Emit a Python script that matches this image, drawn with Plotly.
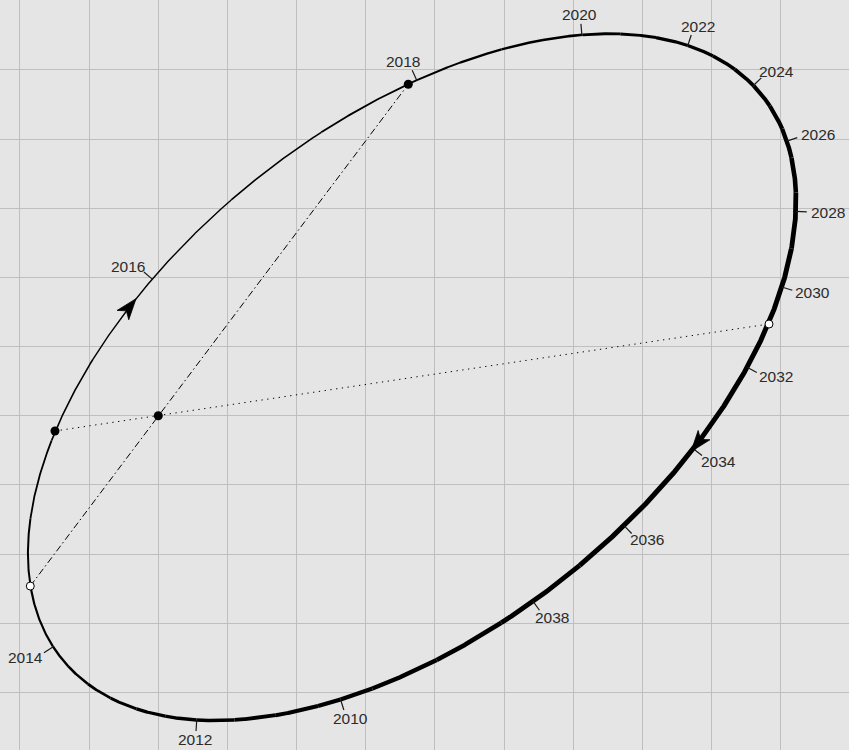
import numpy as np
import plotly.graph_objects as go

# ---------------- data (axis units, primary star at the origin) ----------------
years = [2010, 2012, 2014, 2016, 2018, 2020, 2022, 2024, 2026, 2028, 2030, 2032, 2034, 2036, 2038]
year_x = [2.638, 0.555, -1.518, -0.081, 3.737, 6.123, 7.664, 8.614, 9.073, 9.207, 9.029, 8.513, 7.708, 6.749, 5.423]
year_y = [-4.093, -4.400, -3.341, 1.973, 4.855, 5.505, 5.363, 4.782, 3.962, 2.950, 1.865, 0.700, -0.470, -1.599, -2.690]

primary_x = [0.0]
primary_y = [0.0]
apsides_x = [-1.851, 3.615]      # periastron (open), apastron (filled)
apsides_y = [-2.463, 4.793]
nodes_x = [-1.494, 8.831]        # node (filled), node (open)
nodes_y = [-0.221, 1.326]
arrow_x = [-0.337, 7.699]        # direction-of-motion arrows
arrow_y = [1.698, -0.521]

# ---------------- style ----------------
PX = 69.15                       # pixels per axis unit
line_width_at_year = [4.2, 3.5, 2.3, 1.3, 1.9, 2.7, 3.3, 3.9, 4.4, 4.8, 5.0, 5.1, 5.1, 5.0, 4.8]
TICK_LEN = 11.0
LABEL_RX, LABEL_RY = 32.5, 20.0  # label-centre offset along the outward normal (px)
FONT = dict(family="Liberation Sans, Arial, Helvetica, sans-serif", size=15.5, color="#2b2b2b")
BG = "#e5e5e5"
GRID = "#bfbfbf"

# ---------------- ellipse through the measured positions (conic fit) ----------------
fx = np.array(year_x + apsides_x + nodes_x)
fy = np.array(year_y + apsides_y + nodes_y)
Dm = np.column_stack([fx**2, fx*fy, fy**2, fx, fy, np.ones_like(fx)])
_, _, Vt = np.linalg.svd(Dm)
A, B, C, D, E, F = Vt[-1]
M = np.array([[A, B/2], [B/2, C]])
cen = np.linalg.solve(2*M, -np.array([D, E]))
Fc = F + 0.5*(D*cen[0] + E*cen[1])
lam, V = np.linalg.eigh(M)
semi = np.sqrt(-Fc/lam)


def ell(t):
    t = np.asarray(t, dtype=float)
    loc = np.vstack([semi[0]*np.cos(t), semi[1]*np.sin(t)])
    return cen[:, None] + V @ loc


def ell_d(t):
    t = np.asarray(t, dtype=float)
    loc = np.vstack([-semi[0]*np.sin(t), semi[1]*np.cos(t)])
    return V @ loc


yx = np.array(year_x); yy = np.array(year_y)
loc = V.T @ (np.vstack([yx, yy]) - cen[:, None])
t_raw = np.arctan2(loc[1]/semi[1], loc[0]/semi[0])
d = np.diff(t_raw)
d = (d + np.pi) % (2*np.pi) - np.pi
s = np.sign(d.sum())
T = np.concatenate([[t_raw[0]], t_raw[0] + np.cumsum(d)])
T_ext = np.append(T, T[0] + s*2*np.pi)
w_ext = np.array(line_width_at_year + [line_width_at_year[0]])

N = 2400
Td = np.linspace(T[0], T[0] + s*2*np.pi, N)
P = ell(Td)
Wd = np.interp(s*(Td - T[0]), s*(T_ext - T[0]), w_ext)
Wq = np.round(Wd/0.2)*0.2

fig = go.Figure()

# line of apsides (dash-dot) and line of nodes (dotted)
fig.add_trace(go.Scatter(x=apsides_x, y=apsides_y, mode="lines",
                         line=dict(color="black", width=1, dash="7px,3px,1.5px,3px"), hoverinfo="skip"))
fig.add_trace(go.Scatter(x=nodes_x, y=nodes_y, mode="lines",
                         line=dict(color="black", width=1, dash="1.3px,4.5px"), hoverinfo="skip"))

# orbit with varying thickness
start = 0
for i in range(1, N + 1):
    if i == N or Wq[i] != Wq[start]:
        end = min(i + 1, N)
        fig.add_trace(go.Scatter(x=P[0, start:end], y=P[1, start:end], mode="lines",
                                 line=dict(color="black", width=float(Wq[start])),
                                 hoverinfo="skip"))
        start = i

# year ticks and labels
tx, ty = [], []
for k, yr in enumerate(years):
    p = ell([T[k]])[:, 0]
    tg = ell_d([T[k]])[:, 0]
    n = np.array([-tg[1], tg[0]])
    n /= np.linalg.norm(n)
    if np.dot(n, p - cen) < 0:
        n = -n
    q = p + n*TICK_LEN/PX
    tx += [p[0], q[0], None]
    ty += [p[1], q[1], None]
    lc = p + np.array([n[0]*LABEL_RX, n[1]*LABEL_RY])/PX
    fig.add_annotation(x=lc[0], y=lc[1], text=str(yr), showarrow=False,
                       xanchor="center", yanchor="middle", font=FONT)
fig.add_trace(go.Scatter(x=tx, y=ty, mode="lines", line=dict(color="#1a1a1a", width=1.2), hoverinfo="skip"))

# direction arrows
ARROW_L, ARROW_HW, ARROW_NOTCH = 21.0, 7.5, 15.5
for axp, ayp in zip(arrow_x, arrow_y):
    i = int(np.argmin((P[0] - axp)**2 + (P[1] - ayp)**2))
    i = min(max(i, 1), N - 2)
    tip = P[:, i]
    u = P[:, i + 1] - P[:, i - 1]
    u /= np.linalg.norm(u)
    v = np.array([-u[1], u[0]])
    pts = [tip,
           tip - u*ARROW_L/PX + v*ARROW_HW/PX,
           tip - u*ARROW_NOTCH/PX,
           tip - u*ARROW_L/PX - v*ARROW_HW/PX,
           tip]
    fig.add_trace(go.Scatter(x=[a[0] for a in pts], y=[a[1] for a in pts], mode="lines",
                             fill="toself", fillcolor="black", line=dict(color="black", width=0.8),
                             hoverinfo="skip"))

# markers
filled_x = [primary_x[0], apsides_x[1], nodes_x[0]]
filled_y = [primary_y[0], apsides_y[1], nodes_y[0]]
open_x = [apsides_x[0], nodes_x[1]]
open_y = [apsides_y[0], nodes_y[1]]
fig.add_trace(go.Scatter(x=filled_x, y=filled_y, mode="markers",
                         marker=dict(color="black", size=9), hoverinfo="skip"))
fig.add_trace(go.Scatter(x=open_x, y=open_y, mode="markers",
                         marker=dict(color="white", size=8, line=dict(color="black", width=1)),
                         hoverinfo="skip"))

axis_common = dict(dtick=1, tick0=0, showgrid=True, gridcolor=GRID, gridwidth=1, zeroline=False,
                   showticklabels=False, ticks="", showline=False, fixedrange=True)
fig.update_layout(width=849, height=750, autosize=False,
                  margin=dict(l=0, r=0, t=0, b=0, pad=0),
                  plot_bgcolor=BG, paper_bgcolor=BG, showlegend=False,
                  xaxis=dict(range=[-2.289, 9.988], **axis_common),
                  yaxis=dict(range=[-4.834, 6.012], **axis_common))

fig.write_html("out.html", config={"displayModeBar": False},
               post_script="document.body.style.margin='0px';document.body.style.overflow='hidden';")
